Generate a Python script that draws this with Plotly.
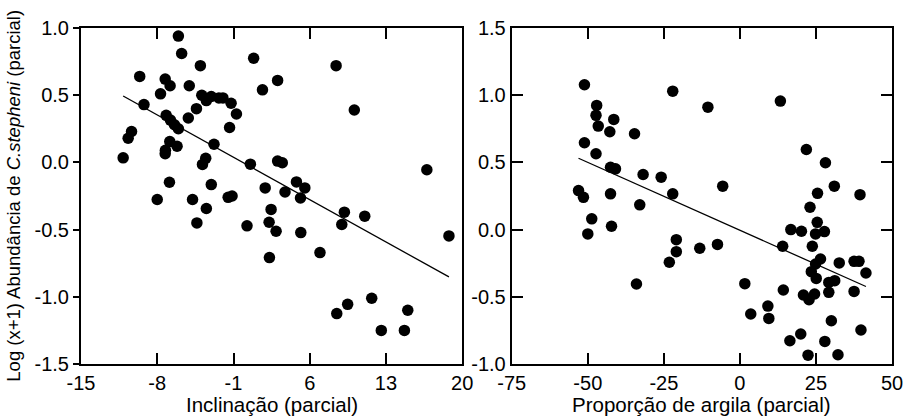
import plotly.graph_objects as go

# ---- Left panel: Inclinação (parcial) ----
incl_x = [-6.06, -5.76, -9.61, -4.04, 0.85, 8.42, 3.05, 1.66, 10.09, -7.27,
          -6.82, -7.70, -5.06, -9.22, -3.91, -3.49, -3.04, -2.34, -1.97, -1.22,
          -0.73, -4.40, -5.15, -1.36, -7.18, -6.79, -6.42, -6.06, -10.36, -10.67,
          -2.79, -6.85, -7.25, -6.18, -7.27, -11.13, -3.55, -3.85, 0.55, 3.05,
          3.48, 16.75, 4.78, 5.55, 1.91, -3.04, -6.88, 3.73, 5.15, -1.49,
          -1.13, -8.00, -4.76, -3.49, 2.45, 9.18, 11.05, -4.36, 0.24, 2.27,
          2.91, 5.18, 8.94, 18.78, 2.30, 6.94, 11.69, 8.48, 9.48, 15.00,
          12.57, 14.69]
incl_y = [0.94, 0.81, 0.64, 0.72, 0.775, 0.72, 0.61, 0.54, 0.39, 0.62,
          0.57, 0.51, 0.57, 0.43, 0.50, 0.46, 0.49, 0.48, 0.48, 0.44,
          0.36, 0.40, 0.33, 0.26, 0.35, 0.315, 0.28, 0.25, 0.23, 0.18,
          0.135, 0.155, 0.09, 0.12, 0.065, 0.034, 0.03, -0.015, -0.013, 0.01,
          -0.003, -0.055, -0.145, -0.19, -0.19, -0.165, -0.148, -0.22, -0.265, -0.26,
          -0.25, -0.276, -0.276, -0.343, -0.35, -0.37, -0.40, -0.45, -0.472, -0.445,
          -0.512, -0.522, -0.462, -0.547, -0.708, -0.671, -1.011, -1.125, -1.056, -1.10,
          -1.25, -1.25]
incl_fit = (-0.007, -0.045)  # intercept, slope

# ---- Right panel: Proporção de argila (parcial) ----
arg_x = [-51.1, -47.08, -47.3, -46.56, -41.46, -42.76, -34.64, -22.08, -10.52, 13.31,
         -51.1, -47.3, -42.53, -40.9, -31.82, -25.88, -5.65, 21.85, 28.12, 31.04,
         25.52, 39.48, 23.05, -53.05, -51.43, -42.53, -22.08, -32.92, -48.7, -50.0,
         -42.2, -34.0, -20.9, -20.9, -23.2, -13.2, -7.37, 1.62, 3.57, 9.19,
         9.51, 14.06, 14.28, 16.75, 20.23, 25.42, 24.87, 27.79, 23.8, 26.49,
         24.87, 23.47, 25.1, 32.66, 37.53, 39.15, 41.43, 37.53, 29.22, 31.17,
         29.22, 20.88, 24.55, 22.73, 30.06, 39.8, 20.0, 16.43, 27.92, 22.4,
         32.24]
arg_y = [1.078, 0.924, 0.85, 0.77, 0.82, 0.728, 0.713, 1.03, 0.911, 0.956,
         0.646, 0.564, 0.464, 0.452, 0.41, 0.39, 0.323, 0.596, 0.497, 0.323,
         0.27, 0.26, 0.166, 0.29, 0.24, 0.266, 0.266, 0.184, 0.08, -0.032,
         0.025, -0.405, -0.075, -0.164, -0.243, -0.139, -0.11, -0.402, -0.628, -0.569,
         -0.661, -0.124, -0.449, 0.0, -0.012, 0.054, -0.032, -0.015, -0.124, -0.219,
         -0.256, -0.313, -0.363, -0.248, -0.236, -0.236, -0.323, -0.46, -0.393, -0.38,
         -0.467, -0.487, -0.479, -0.522, -0.678, -0.747, -0.777, -0.827, -0.832, -0.934,
         -0.931]
arg_fit = (-0.005, -0.0101)

# ---- Tick labels ----
incl_ticks = [-15, -8, -1, 6, 13, 20]
incl_ticktext = ["-15", "-8", "-1", "6", "13", "20"]
left_yticks = [-1.5, -1.0, -0.5, 0.0, 0.5, 1.0]
left_yticktext = ["-1.5", "-1.0", "-0.5", "0.0", "0.5", "1.0"]
arg_ticks = [-75, -50, -25, 0, 25, 50]
arg_ticktext = ["-75", "-50", "-25", "0", "25", "50"]
right_yticks = [-1.0, -0.5, 0.0, 0.5, 1.0, 1.5]
right_yticktext = ["-1.0", "-0.5", "0.0", "0.5", "1.0", "1.5"]

FONT = "Liberation Sans, Arial, sans-serif"
TICKFS = 20
TITLEFS = 20.5
YTITLEFS = 18.5

def fit_line(xs, fit):
    x0, x1 = min(xs), max(xs)
    return [x0, x1], [fit[0] + fit[1] * x0, fit[0] + fit[1] * x1]

fig = go.Figure()
marker = dict(color="black", size=11.5, line=dict(width=0))

fig.add_trace(go.Scatter(x=incl_x, y=incl_y, mode="markers", marker=marker,
                         xaxis="x", yaxis="y", showlegend=False))
lx, ly = fit_line(incl_x, incl_fit)
fig.add_trace(go.Scatter(x=lx, y=ly, mode="lines", line=dict(color="black", width=1.3),
                         xaxis="x", yaxis="y", showlegend=False))

fig.add_trace(go.Scatter(x=arg_x, y=arg_y, mode="markers", marker=marker,
                         xaxis="x2", yaxis="y2", showlegend=False))
rx, ry = fit_line(arg_x, arg_fit)
fig.add_trace(go.Scatter(x=rx, y=ry, mode="lines", line=dict(color="black", width=1.3),
                         xaxis="x2", yaxis="y2", showlegend=False))

L, R, T, B = 81, 15, 28, 54
W, H = 915, 418
pw = W - L - R
ph = H - T - B
d1 = [0, (466 - L) / pw]
d2 = [(516 - L) / pw, 1]

axis_common = dict(showgrid=False, zeroline=False, showline=True, linecolor="black",
                   linewidth=2, tickcolor="black", tickwidth=1.5,
                   tickfont=dict(family=FONT, size=TICKFS, color="black"))

title_y = -(404 - (H - B)) / ph

fig.update_layout(
    width=W, height=H,
    margin=dict(l=L, r=R, t=T, b=B),
    paper_bgcolor="white", plot_bgcolor="white",
    font=dict(family=FONT, color="black"),
    xaxis=dict(domain=d1, range=[-15, 20], tickvals=incl_ticks, ticktext=incl_ticktext,
               ticks="inside", ticklen=11, mirror="ticks", anchor="y", **axis_common),
    yaxis=dict(domain=[0, 1], range=[-1.5, 1.0], tickvals=left_yticks, ticktext=left_yticktext,
               ticks="outside", ticklen=6, mirror=True, anchor="x", **axis_common),
    yaxis3=dict(range=[-1.5, 1.0], tickvals=left_yticks, overlaying="y", side="right",
                anchor="x", ticks="inside", ticklen=11, tickwidth=1.5, tickcolor="black",
                showticklabels=False, showline=False, showgrid=False, zeroline=False),
    xaxis2=dict(domain=d2, range=[-75, 50], tickvals=arg_ticks, ticktext=arg_ticktext,
                ticks="inside", ticklen=11, mirror="ticks", anchor="y2", **axis_common),
    yaxis2=dict(domain=[0, 1], range=[-1.0, 1.5], tickvals=right_yticks, ticktext=right_yticktext,
                ticks="inside", ticklen=11, mirror="ticks", anchor="x2", **axis_common),
    annotations=[
        dict(text="Log (x+1) Abundância de <i>C.stepheni</i> (parcial)",
             xref="paper", yref="paper", x=(12 - L) / pw, y=0.5,
             xanchor="center", yanchor="middle", textangle=-90, showarrow=False,
             font=dict(family=FONT, size=YTITLEFS, color="black")),
        dict(text="Inclinação (parcial)", xref="paper", yref="paper",
             x=(d1[0] + d1[1]) / 2, y=title_y, xanchor="center", yanchor="middle",
             showarrow=False, font=dict(family=FONT, size=TITLEFS, color="black")),
        dict(text="Proporção de argila (parcial)", xref="paper", yref="paper",
             x=(d2[0] + d2[1]) / 2, y=title_y, xanchor="center", yanchor="middle",
             showarrow=False, font=dict(family=FONT, size=TITLEFS, color="black")),
    ],
)

fig.write_html("out.html", config={"displayModeBar": False},
               post_script="document.body.style.margin='0';document.body.style.padding='0';")
